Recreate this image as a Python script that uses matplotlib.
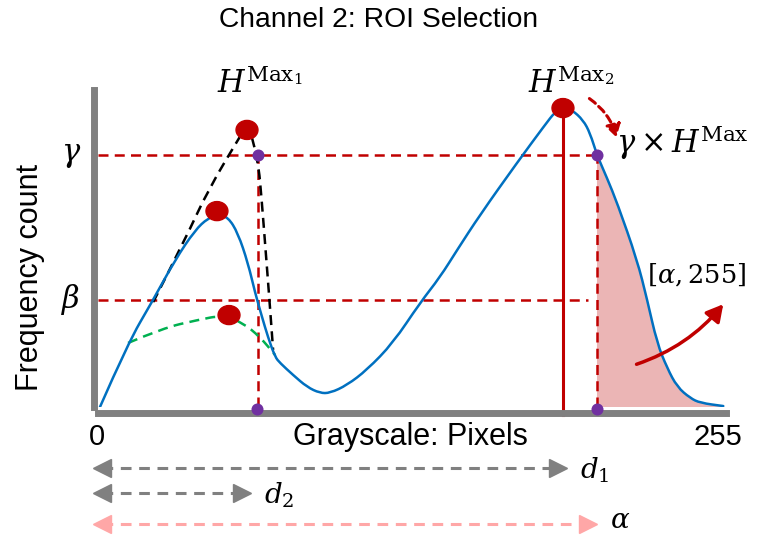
import matplotlib
matplotlib.use('Agg')
import matplotlib.pyplot as plt
from matplotlib.patches import Ellipse, PathPatch
from matplotlib.path import Path

plt.rcParams['font.family'] = ['Liberation Sans', 'DejaVu Sans']
plt.rcParams['mathtext.fontset'] = 'dejavuserif'

# histogram-like curve (grayscale 0..255, count 0..100)
curve_x = [0.8, 12.2, 21.9, 31.3, 39.4, 44.7, 48.7, 52.8, 56.8, 60.9, 63.8, 66.6,
           69.0, 71.9, 73.9, 79.2, 84.9, 90.1, 94.2, 101.1, 109.2, 119.8, 130.7,
           138.9, 145.8, 155.1, 170.1, 181.5, 185.6, 188.8, 192.5, 197.0, 199.8,
           202.6, 206.7, 210.8, 218.9, 223.0, 227.0, 231.1, 235.2, 240.5, 244.5, 253.9]
curve_y = [0, 20.2, 33.1, 46.4, 55.8, 59.6, 60.6, 59.9, 54.9, 45.4, 36.0, 28.4,
           22.1, 15.8, 13.9, 10.1, 6.3, 4.4, 4.4, 6.9, 11.7, 20.2, 32.8,
           41.0, 49.5, 60.6, 77.0, 89.0, 93.1, 94.6, 93.7, 90.5, 86.4,
           79.5, 72.2, 64.4, 46.4, 33.8, 20.2, 12.3, 6.3, 2.8, 1.3, 0.3]

# construction lines around the first peak
black_up_x = [22.4, 35.3, 44.7, 58.5]
black_up_y = [33.1, 52.7, 68.5, 86.4]
black_down_x = [62.5, 65.0, 66.5, 68.0, 69.5, 71.1]
black_down_y = [85.0, 78.0, 65.0, 50.0, 35.0, 18.0]
green_x = [12.2, 26.4, 40.2, 50.8, 58.9, 65.8, 71.9]
green_y = [20.2, 24.9, 27.4, 29.0, 26.5, 22.1, 16.4]

# thresholds
gamma_level = 79.5
beta_level = 33.8
x_cut1 = 65.0      # where first peak crosses gamma
alpha = 202.6      # where second peak crosses gamma
peak2 = 188.8

red_dots_x = [60.5, 48.3, 53.2, 188.8]
red_dots_y = [87.4, 61.8, 29.0, 94.3]
purple_x = [65.0, 64.6, 202.6, 202.6]
purple_y = [79.5, -0.6, 79.5, -0.6]

# distance arrows under the axis
dist_ends = [190.4, 62.1, 202.6]
dist_levels = [-19.2, -27.1, -36.9]
dist_labels = [r'$d_1$', r'$d_2$', r'$\alpha$']
dist_colors = ['#808080', '#808080', '#FFA7A7']

RED = '#C00000'


def smooth(xs, ys):
    # quadratic bezier through the read points
    verts = [(xs[0], ys[0])]
    codes = [Path.MOVETO]
    for i in range(1, len(xs) - 1):
        verts += [(xs[i], ys[i]), ((xs[i] + xs[i + 1]) / 2, (ys[i] + ys[i + 1]) / 2)]
        codes += [Path.CURVE3, Path.CURVE3]
    verts.append((xs[-1], ys[-1]))
    codes.append(Path.LINETO)
    return verts, codes


fig = plt.figure(figsize=(7.58, 5.36), dpi=100)
ax = fig.add_axes([98 / 758, 129 / 536, 628 / 758, 317 / 536])
ax.set_xlim(0, 255)
ax.set_ylim(0, 100)
ax.set_xticks([])
ax.set_yticks([])
for s in ['top', 'right']:
    ax.spines[s].set_visible(False)
for s in ['left', 'bottom']:
    ax.spines[s].set_color('#808080')
    ax.spines[s].set_linewidth(5)
ax.spines['left'].set_position(('outward', 3))
ax.spines['bottom'].set_position(('outward', 4))

# shaded ROI
i0 = curve_x.index(alpha)
fv, fc = smooth(curve_x[i0:], curve_y[i0:])
fv += [(curve_x[-1], 0), (alpha, 0), (alpha, 0)]
fc += [Path.LINETO, Path.LINETO, Path.CLOSEPOLY]
ax.add_patch(PathPatch(Path(fv, fc), facecolor='#EBB5B5', lw=0, zorder=1))

# threshold lines
dash = (0, (4, 2.5))
ax.plot([0, alpha], [gamma_level, gamma_level], color=RED, lw=1.8, ls=dash, zorder=2)
ax.plot([0, 199], [beta_level, beta_level], color=RED, lw=1.8, ls=dash, zorder=2)
ax.plot([x_cut1, x_cut1], [0, gamma_level], color=RED, lw=1.8, ls=dash, zorder=2)
ax.plot([alpha, alpha], [0, gamma_level], color=RED, lw=1.8, ls=dash, zorder=2)
ax.plot([peak2, peak2], [-2.5, 94.3], color=RED, lw=2.2, clip_on=False, zorder=2)

bv, bc = smooth(black_up_x, black_up_y)
ax.add_patch(PathPatch(Path(bv, bc), fill=False, edgecolor='black', lw=1.8, ls=dash, zorder=3))
bv, bc = smooth(black_down_x, black_down_y)
ax.add_patch(PathPatch(Path(bv, bc), fill=False, edgecolor='black', lw=1.8, ls=dash, zorder=3))
gv, gc = smooth(green_x, green_y)
ax.add_patch(PathPatch(Path(gv, gc), fill=False, edgecolor='#00B050', lw=1.8, ls=dash, zorder=3))

cv, cc = smooth(curve_x, curve_y)
ax.add_patch(PathPatch(Path(cv, cc), fill=False, edgecolor='#0070C0', lw=1.8,
                       joinstyle='round', capstyle='round', zorder=4))

for x, y in zip(red_dots_x, red_dots_y):
    ax.add_patch(Ellipse((x, y), 8.9, 6.0, color=RED, zorder=6, clip_on=False))
ax.scatter(purple_x, purple_y, s=75, color='#7030A0', zorder=7, clip_on=False, lw=0)

# arrows on the right
ax.annotate('', xy=(254.6, 33.1), xytext=(217.6, 13.2),
            arrowprops=dict(arrowstyle='-|>,head_length=1.0,head_width=0.55', color=RED,
                            lw=2.5, connectionstyle='arc3,rad=0.15'), zorder=8)
ax.annotate('', xy=(210.8, 84.2), xytext=(198.6, 97.8),
            arrowprops=dict(arrowstyle='-|>,head_length=0.75,head_width=0.45', color=RED,
                            lw=2.2, ls=(0, (2.5, 1.5)), connectionstyle='arc3,rad=-0.2'),
            zorder=8)

# labels in the plot
mfs = 22
ax.text(65.5, 99.1, r'$H^{\mathrm{Max}_1}$', fontsize=mfs, ha='center', va='baseline', clip_on=False)
ax.text(192.0, 99.1, r'$H^{\mathrm{Max}_2}$', fontsize=mfs, ha='center', va='baseline', clip_on=False)
ax.text(210.5, 80.1, r'$\gamma \times H^{\mathrm{Max}}$', fontsize=mfs, ha='left', va='baseline', clip_on=False)
ax.text(243.0, 39.4, r'$[\alpha, 255]$', fontsize=18.5, ha='center', va='baseline', clip_on=False)
ax.text(-11.0, gamma_level, r'$\gamma$', fontsize=mfs, ha='center', va='center', clip_on=False)
ax.text(-11.0, beta_level, r'$\beta$', fontsize=mfs, ha='center', va='center', clip_on=False)

ax.text(-0.5, -9.5, '0', fontsize=21, ha='center', va='center', clip_on=False)
ax.text(251.5, -9.5, '255', fontsize=21, ha='center', va='center', clip_on=False)
ax.text(127, -9.5, 'Grayscale: Pixels', fontsize=22, ha='center', va='center', clip_on=False)
fig.text(30 / 758, 1 - 277 / 536, 'Frequency count', fontsize=22, rotation=90,
         ha='center', va='center')
fig.text(379 / 758, 1 - 20 / 536, 'Channel 2: ROI Selection', fontsize=20.3,
         ha='center', va='center')

# distance arrows
head = 3.66
lab_dy = [-0.6, -0.6, 0.8]
for x_end, y, col, lab, dy in zip(dist_ends, dist_levels, dist_colors, dist_labels, lab_dy):
    ax.plot([-2.0 + head, x_end - head], [y, y], color=col, lw=2.2,
            ls=(0, (3.5, 2.5)), clip_on=False)
    ax.plot([-2.0 + head], [y], marker='<', ms=13, color=col, clip_on=False, lw=0)
    ax.plot([x_end - head], [y], marker='>', ms=13, color=col, clip_on=False, lw=0)
    ax.text(x_end + 5.5, y + dy, lab, fontsize=20, ha='left', va='center', clip_on=False)

fig.savefig('out.png', dpi=100)
